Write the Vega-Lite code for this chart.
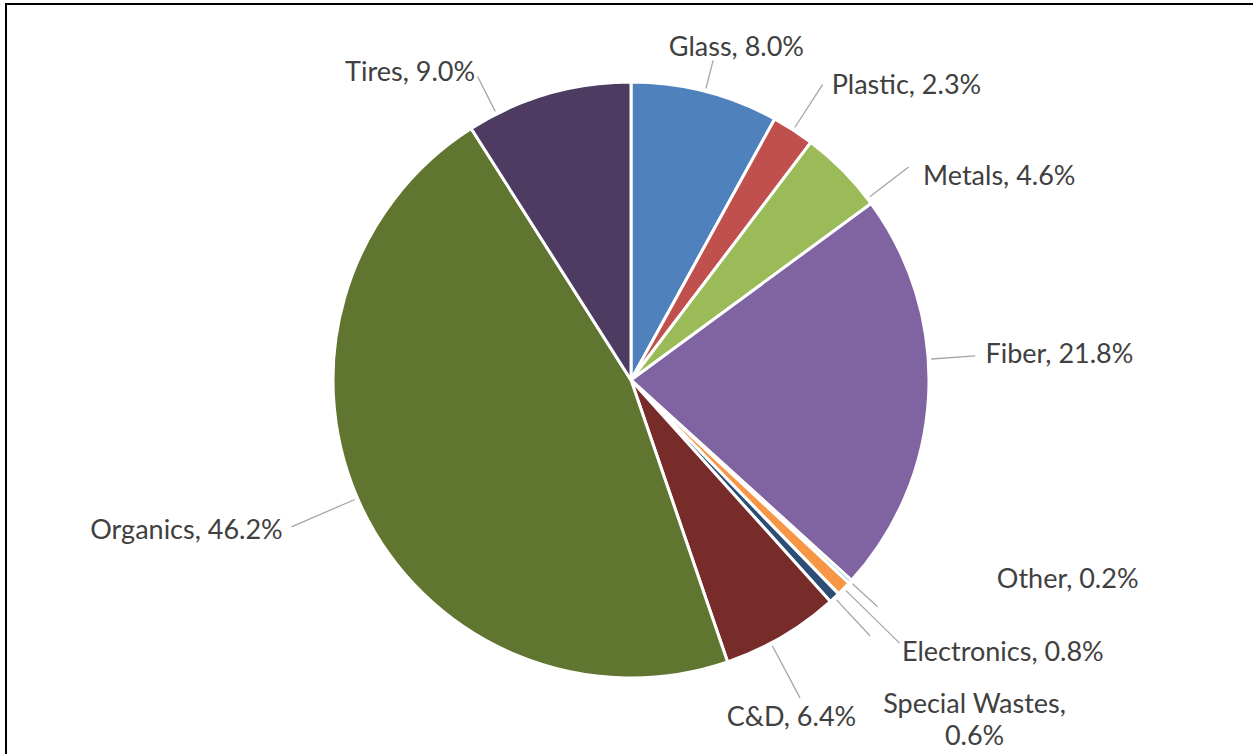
{
  "$schema": "https://vega.github.io/schema/vega-lite/v6.json",
  "width": 1250,
  "height": 752,
  "autosize": "none",
  "padding": {"left": 6, "top": 4, "right": -3, "bottom": -2},
  "background": "white",
  "layer": [
    {
      "data": {"values": [{}]},
      "mark": {"type": "rect", "filled": false, "stroke": "black", "strokeWidth": 2},
      "encoding": {
        "x": {"value": 0},
        "x2": {"value": "width"},
        "y": {"value": 0},
        "y2": {"value": "height"}
      }
    },
    {
      "data": {
        "values": [
          {"material": "Glass", "share": 8.0, "label": "Glass, 8.0%"},
          {"material": "Plastic", "share": 2.3, "label": "Plastic, 2.3%"},
          {"material": "Metals", "share": 4.6, "label": "Metals, 4.6%"},
          {"material": "Fiber", "share": 21.8, "label": "Fiber, 21.8%"},
          {"material": "Other", "share": 0.2, "label": "Other, 0.2%"},
          {"material": "Electronics", "share": 0.8, "label": "Electronics, 0.8%"},
          {"material": "Special Wastes", "share": 0.6, "label": "Special Wastes,\n0.6%"},
          {"material": "C&D", "share": 6.4, "label": "C&D, 6.4%"},
          {"material": "Organics", "share": 46.2, "label": "Organics, 46.2%"},
          {"material": "Tires", "share": 9.0, "label": "Tires, 9.0%"}
        ]
      },
      "transform": [{"window": [{"op": "row_number", "as": "idx"}]}],
      "encoding": {
        "theta": {"field": "share", "type": "quantitative", "stack": true},
        "order": {"field": "idx", "type": "quantitative"},
        "detail": {"field": "material", "type": "nominal"}
      },
      "layer": [
        {
          "mark": {"type": "arc", "outerRadius": 298, "stroke": "white", "strokeWidth": 3},
          "encoding": {
            "color": {
              "field": "material",
              "type": "nominal",
              "scale": {
                "domain": ["Glass", "Plastic", "Metals", "Fiber", "Other", "Electronics", "Special Wastes", "C&D", "Organics", "Tires"],
                "range": ["#4F81BD", "#C0504D", "#9BBB59", "#8064A2", "#4BACC6", "#F79646", "#2C4D75", "#772C2A", "#5F7530", "#4D3B62"]
              },
              "legend": null
            }
          }
        },
        {
          "mark": {"type": "arc", "filled": false, "stroke": "#A6A6A6", "strokeWidth": 1.3, "innerRadius": 301, "outerRadius": 330, "padAngle": 3},
          "encoding": {"strokeOpacity": {"condition": {"test": "datum.material === 'Glass'", "value": 1}, "value": 0}}
        },
        {
          "mark": {"type": "arc", "filled": false, "stroke": "#A6A6A6", "strokeWidth": 1.3, "innerRadius": 301, "outerRadius": 352, "padAngle": 3},
          "encoding": {"strokeOpacity": {"condition": {"test": "datum.material === 'Plastic'", "value": 1}, "value": 0}}
        },
        {
          "mark": {"type": "arc", "filled": false, "stroke": "#A6A6A6", "strokeWidth": 1.3, "innerRadius": 301, "outerRadius": 350, "padAngle": 3, "thetaOffset": 0.1237, "theta2Offset": 0.1237},
          "encoding": {"strokeOpacity": {"condition": {"test": "datum.material === 'Metals'", "value": 1}, "value": 0}}
        },
        {
          "mark": {"type": "arc", "filled": false, "stroke": "#A6A6A6", "strokeWidth": 1.3, "innerRadius": 301, "outerRadius": 345, "padAngle": 3, "thetaOffset": -0.1217, "theta2Offset": -0.1217},
          "encoding": {"strokeOpacity": {"condition": {"test": "datum.material === 'Fiber'", "value": 1}, "value": 0}}
        },
        {
          "mark": {"type": "arc", "filled": false, "stroke": "#A6A6A6", "strokeWidth": 1.3, "innerRadius": 301, "outerRadius": 335, "padAngle": 3},
          "encoding": {"strokeOpacity": {"condition": {"test": "datum.material === 'Other'", "value": 1}, "value": 0}}
        },
        {
          "mark": {"type": "arc", "filled": false, "stroke": "#A6A6A6", "strokeWidth": 1.3, "innerRadius": 301, "outerRadius": 376, "padAngle": 3},
          "encoding": {"strokeOpacity": {"condition": {"test": "datum.material === 'Electronics'", "value": 1}, "value": 0}}
        },
        {
          "mark": {"type": "arc", "filled": false, "stroke": "#A6A6A6", "strokeWidth": 1.3, "innerRadius": 301, "outerRadius": 350, "padAngle": 3},
          "encoding": {"strokeOpacity": {"condition": {"test": "datum.material === 'Special Wastes'", "value": 1}, "value": 0}}
        },
        {
          "mark": {"type": "arc", "filled": false, "stroke": "#A6A6A6", "strokeWidth": 1.3, "innerRadius": 301, "outerRadius": 360, "padAngle": 3, "thetaOffset": 0.0428, "theta2Offset": 0.0428},
          "encoding": {"strokeOpacity": {"condition": {"test": "datum.material === 'C&D'", "value": 1}, "value": 0}}
        },
        {
          "mark": {"type": "arc", "filled": false, "stroke": "#A6A6A6", "strokeWidth": 1.3, "innerRadius": 301, "outerRadius": 370, "padAngle": 3, "thetaOffset": 0.0398, "theta2Offset": 0.0398},
          "encoding": {"strokeOpacity": {"condition": {"test": "datum.material === 'Organics'", "value": 1}, "value": 0}}
        },
        {
          "mark": {"type": "arc", "filled": false, "stroke": "#A6A6A6", "strokeWidth": 1.3, "innerRadius": 301, "outerRadius": 340, "padAngle": 3, "thetaOffset": -0.185, "theta2Offset": -0.185},
          "encoding": {"strokeOpacity": {"condition": {"test": "datum.material === 'Tires'", "value": 1}, "value": 0}}
        },
        {
          "mark": {"type": "text", "radius": 335, "dx": 22, "dy": 0, "align": "center", "baseline": "alphabetic", "font": "Lato", "fontSize": 27, "color": "#404040"},
          "encoding": {"text": {"condition": {"test": "datum.material === 'Glass'", "field": "label"}, "value": ""}}
        },
        {
          "mark": {"type": "text", "radius": 343, "dx": 14, "dy": 2, "align": "left", "baseline": "alphabetic", "font": "Lato", "fontSize": 27, "color": "#404040"},
          "encoding": {"text": {"condition": {"test": "datum.material === 'Plastic'", "field": "label"}, "value": ""}}
        },
        {
          "mark": {"type": "text", "radius": 340, "dx": 50, "dy": 44, "align": "left", "baseline": "alphabetic", "font": "Lato", "fontSize": 27, "color": "#404040"},
          "encoding": {"text": {"condition": {"test": "datum.material === 'Metals'", "field": "label"}, "value": ""}}
        },
        {
          "mark": {"type": "text", "radius": 345, "dx": 10, "dy": -35, "align": "left", "baseline": "alphabetic", "font": "Lato", "fontSize": 27, "color": "#404040"},
          "encoding": {"text": {"condition": {"test": "datum.material === 'Fiber'", "field": "label"}, "value": ""}}
        },
        {
          "mark": {"type": "text", "radius": 330, "dx": 123, "dy": -15, "align": "left", "baseline": "alphabetic", "font": "Lato", "fontSize": 27, "color": "#404040"},
          "encoding": {"text": {"condition": {"test": "datum.material === 'Other'", "field": "label"}, "value": ""}}
        },
        {
          "mark": {"type": "text", "radius": 378, "dx": 1, "dy": 16, "align": "left", "baseline": "alphabetic", "font": "Lato", "fontSize": 27, "color": "#404040"},
          "encoding": {"text": {"condition": {"test": "datum.material === 'Electronics'", "field": "label"}, "value": ""}}
        },
        {
          "mark": {"type": "text", "radius": 345, "dx": 108, "dy": 81, "align": "center", "baseline": "alphabetic", "lineBreak": "\n", "lineHeight": 32, "font": "Lato", "fontSize": 27, "color": "#404040"},
          "encoding": {"text": {"condition": {"test": "datum.material === 'Special Wastes'", "field": "label"}, "value": ""}}
        },
        {
          "mark": {"type": "text", "radius": 360, "dx": -22, "dy": 36, "align": "center", "baseline": "alphabetic", "font": "Lato", "fontSize": 27, "color": "#404040"},
          "encoding": {"text": {"condition": {"test": "datum.material === 'C&D'", "field": "label"}, "value": ""}}
        },
        {
          "mark": {"type": "text", "radius": 372, "dx": -13, "dy": -2, "align": "right", "baseline": "alphabetic", "font": "Lato", "fontSize": 27, "color": "#404040"},
          "encoding": {"text": {"condition": {"test": "datum.material === 'Organics'", "field": "label"}, "value": ""}}
        },
        {
          "mark": {"type": "text", "radius": 340, "dx": -61, "dy": 27, "align": "right", "baseline": "alphabetic", "font": "Lato", "fontSize": 27, "color": "#404040"},
          "encoding": {"text": {"condition": {"test": "datum.material === 'Tires'", "field": "label"}, "value": ""}}
        }
      ]
    }
  ]
}
